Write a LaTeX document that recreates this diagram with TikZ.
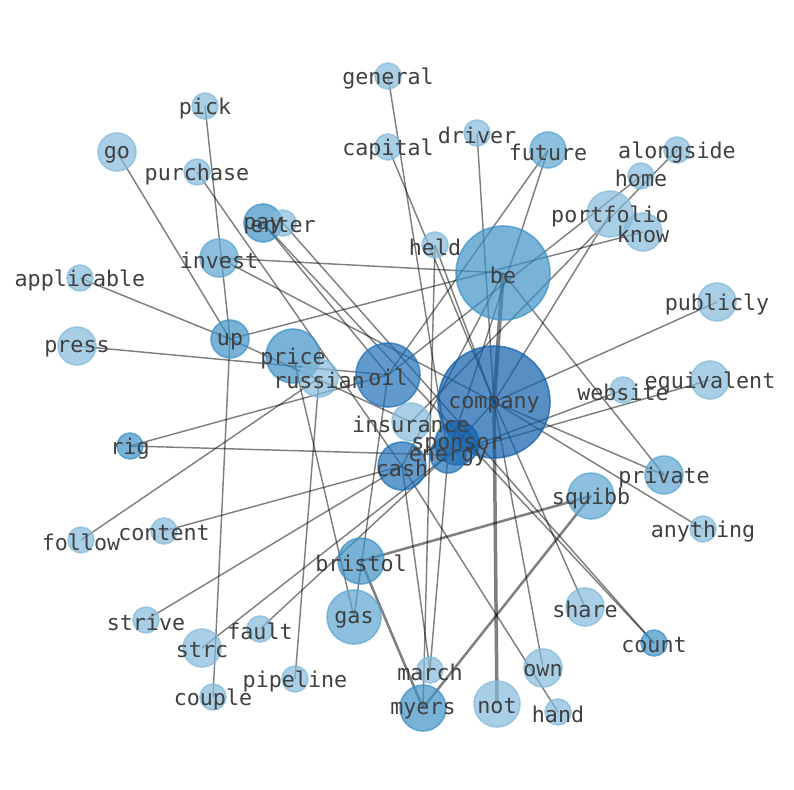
\documentclass[tikz,border=0pt]{standalone}
\usepackage{fontspec}
\newfontfamily\lblfont{DejaVu Sans Mono}
\definecolor{ca}{RGB}{131,186,218}
\definecolor{cb}{RGB}{91,165,208}
\definecolor{cc}{RGB}{62,145,198}
\definecolor{cd}{RGB}{31,112,181}
\definecolor{ce}{RGB}{16,95,171}
\definecolor{lbltxt}{RGB}{64,64,64}
\pgfdeclarelayer{edgelayer}
\pgfdeclarelayer{labellayer}
\pgfsetlayers{edgelayer,main,labellayer}
\begin{document}
\begin{tikzpicture}[x=1bp,y=-1bp,
  nd/.style 2 args={circle, inner sep=0pt, minimum size=#1, fill=#2, draw=#2,
    fill opacity=0.7, draw opacity=0.7, line width=1.6bp},
  lbl/.style={font=\lblfont\fontsize{21.7bp}{24bp}\selectfont, text=lbltxt, inner sep=0pt, yshift=-2.5bp},
  edg/.style={draw=black, draw opacity=0.5, line width=1.45bp},
  thk/.style={draw=black, draw opacity=0.5, line width=#1},
]
\useasboundingbox (0,0) rectangle (794,790);
% nodes
\node[nd={26bp}{ca}] (general) at (388,76) {};
\node[nd={26bp}{ca}] (pick) at (205,106) {};
\node[nd={38bp}{ca}] (go) at (117,152) {};
\node[nd={26bp}{ca}] (purchase) at (197,172) {};
\node[nd={26bp}{ca}] (capital) at (388,147) {};
\node[nd={26bp}{ca}] (driver) at (477,133) {};
\node[nd={36bp}{cb}] (future) at (548,150) {};
\node[nd={26bp}{ca}] (alongside) at (677,150) {};
\node[nd={26bp}{ca}] (home) at (641,176) {};
\node[nd={46bp}{ca}] (portfolio) at (610,214) {};
\node[nd={38bp}{ca}] (know) at (643,232) {};
\node[nd={38bp}{cc}] (pay) at (263,223) {};
\node[nd={26bp}{ca}] (enter) at (283,223) {};
\node[nd={26bp}{ca}] (held) at (435,245) {};
\node[nd={94bp}{cc}] (be) at (503,273) {};
\node[nd={38bp}{cb}] (invest) at (219,258) {};
\node[nd={26bp}{ca}] (applicable) at (80,278) {};
\node[nd={38bp}{ca}] (publicly) at (717,302) {};
\node[nd={38bp}{ca}] (press) at (77,346) {};
\node[nd={38bp}{cc}] (up) at (230,339) {};
\node[nd={54bp}{cc}] (price) at (293,356) {};
\node[nd={38bp}{ca}] (russian) at (319,378) {};
\node[nd={64bp}{cd}] (oil) at (388,375) {};
\node[nd={112bp}{ce}] (company) at (494,402) {};
\node[nd={26bp}{ca}] (website) at (623,390) {};
\node[nd={38bp}{ca}] (equivalent) at (710,380) {};
\node[nd={38bp}{ca}] (insurance) at (411,422) {};
\node[nd={44bp}{ce}] (sponsor) at (457,443) {};
\node[nd={36bp}{cd}] (energy) at (448,455) {};
\node[nd={48bp}{cd}] (cash) at (402,466) {};
\node[nd={26bp}{cc}] (rig) at (130,446) {};
\node[nd={38bp}{cb}] (private) at (664,475) {};
\node[nd={46bp}{cb}] (squibb) at (591,496) {};
\node[nd={26bp}{ca}] (anything) at (703,529) {};
\node[nd={26bp}{ca}] (content) at (164,531) {};
\node[nd={26bp}{ca}] (follow) at (81,540) {};
\node[nd={46bp}{cc}] (bristol) at (361,561) {};
\node[nd={26bp}{ca}] (strive) at (146,620) {};
\node[nd={26bp}{ca}] (fault) at (260,629) {};
\node[nd={54bp}{cb}] (gas) at (354,617) {};
\node[nd={38bp}{ca}] (strc) at (202,648) {};
\node[nd={38bp}{ca}] (share) at (585,607) {};
\node[nd={26bp}{cc}] (count) at (654,643) {};
\node[nd={26bp}{ca}] (pipeline) at (295,679) {};
\node[nd={26bp}{ca}] (couple) at (213,697) {};
\node[nd={26bp}{ca}] (march) at (430,670) {};
\node[nd={38bp}{ca}] (own) at (543,668) {};
\node[nd={46bp}{cc}] (myers) at (423,708) {};
\node[nd={46bp}{ca}] (not) at (497,704) {};
\node[nd={26bp}{ca}] (hand) at (558,712) {};
% edges
\begin{pgfonlayer}{edgelayer}
\draw[thk=4bp] (company.center) -- (be.center);
\draw[thk=3.5bp] (company.center) -- (not.center);
\draw[thk=2.5bp] (squibb.center) -- (bristol.center);
\draw[thk=2.5bp] (squibb.center) -- (myers.center);
\draw[thk=2.5bp] (bristol.center) -- (myers.center);
\foreach \a/\b in {company/publicly, company/private, company/anything, company/held,
  company/capital, company/driver, company/share, company/own, company/invest,
  company/portfolio, company/sponsor, be/private, home/oil, know/up, invest/be, be/cash,
  up/go, up/pick, up/applicable, up/couple, up/insurance,
  oil/press, oil/rig, oil/pay, oil/future, future/energy,
  energy/rig, energy/website, energy/equivalent, energy/march, energy/strc, energy/fault,
  cash/purchase, cash/content, cash/strive, cash/march, cash/hand,
  russian/follow, russian/pipeline, gas/price, gas/oil, held/myers,
  pay/count, enter/count, alongside/insurance, general/energy}
  \draw[edg] (\a.center) -- (\b.center);
\end{pgfonlayer}
% labels
\begin{pgfonlayer}{labellayer}
\foreach \n in {general, pick, go, purchase, capital, driver, future, alongside, home,
  portfolio, know, pay, enter, held, be, invest, applicable, publicly, press, up, price,
  russian, oil, company, website, equivalent, insurance, sponsor, energy, cash, rig,
  private, squibb, anything, content, follow, bristol, strive, fault, gas, strc, share,
  count, pipeline, couple, march, own, myers, not, hand}
  \node[lbl] (\n-l) at (\n) {\n};
\end{pgfonlayer}
\end{tikzpicture}
\end{document}
